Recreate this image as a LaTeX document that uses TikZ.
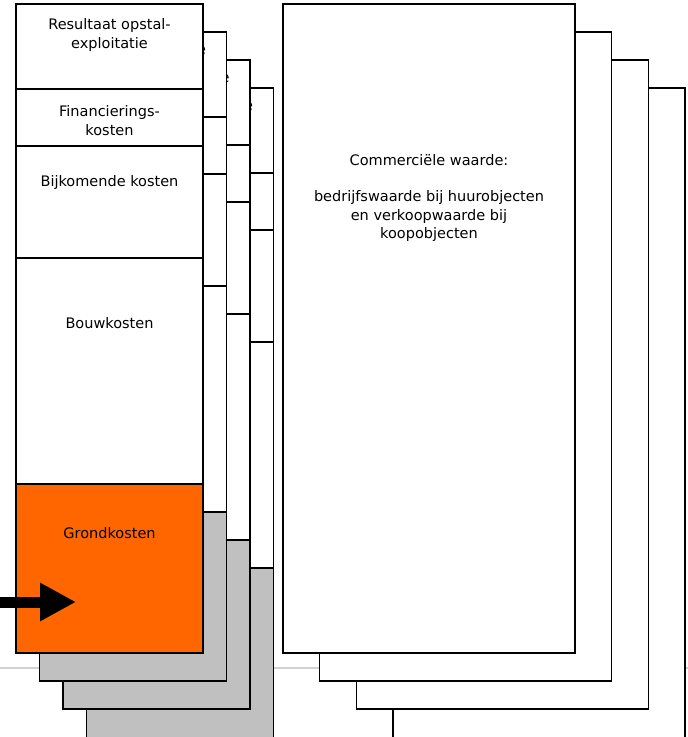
\documentclass[tikz,border=0pt]{standalone}
\usepackage{fontspec}
\setmainfont{DejaVu Sans}
\usetikzlibrary{arrows.meta}
\definecolor{grond}{HTML}{FF6600}
\definecolor{zilver}{HTML}{C0C0C0}
\tikzset{
  kaart/.style={draw=black,fill=white,line width=1.5pt},
  tekst/.style={inner sep=0pt,align=center,anchor=north,font=\fontsize{14.5}{18.5}\selectfont},
}
\begin{document}
\begin{tikzpicture}[x=1pt,y=-1pt]
\useasboundingbox (0,0) rectangle (688,737);
\clip (0,0) rectangle (688,737);
\draw[line width=1.5pt,black!18] (0,668) -- (688,668);
% kosten: achterste kaarten eerst
\foreach \k in {3,2,1}{
  \pgfmathsetmacro\onder{\k==3 ? 665 : 653}
  \begin{scope}[shift={(23.5*\k,28*\k)}]
  \filldraw[kaart] (16,4) rectangle (203,\onder);
  \node[anchor=base,inner sep=0pt,font=\fontsize{14.5}{18.5}\selectfont] at (178,26) {e};
  \filldraw[kaart,fill=zilver] (16,484) rectangle (203,\onder);
  \draw[kaart] (16,89) -- (203,89) (16,146) -- (203,146) (16,258) -- (203,258);
  \end{scope}
}
\filldraw[kaart] (16,4) rectangle (203,653);
\filldraw[kaart,fill=grond] (16,484) rectangle (203,653);
\draw[kaart] (16,89) -- (203,89) (16,146) -- (203,146) (16,258) -- (203,258);
% waarde
\foreach \k in {3,2,1,0}{
  \pgfmathsetmacro\onder{\k==3 ? 665 : 653}
  \filldraw[kaart,shift={(36.7*\k,28*\k)}] (283,4) rectangle (575,\onder);
}
\node[tekst] (resultaat) at (109.5,18.3) {Resultaat opstal-\\exploitatie};
\node[tekst] (financiering) at (109.5,105.7) {Financierings-\\kosten};
\node[tekst] (bijkomend) at (109.5,175) {Bijkomende kosten};
\node[tekst] (bouw) at (109.5,317.3) {Bouwkosten};
\node[tekst] (grond) at (109.5,527.3) {Grondkosten};
\node[tekst] (waarde) at (429,154) {Commerciële waarde:\\[18pt]bedrijfswaarde bij huurobjecten\\en verkoopwaarde bij\\koopobjecten};
% pijl
\coordinate (pijlstart) at (0,602);
\coordinate (pijlpunt) at (76,602);
\draw[line width=11pt,-{Triangle[length=36pt,width=36pt]}] (pijlstart) -- (pijlpunt);
\end{tikzpicture}
\end{document}
